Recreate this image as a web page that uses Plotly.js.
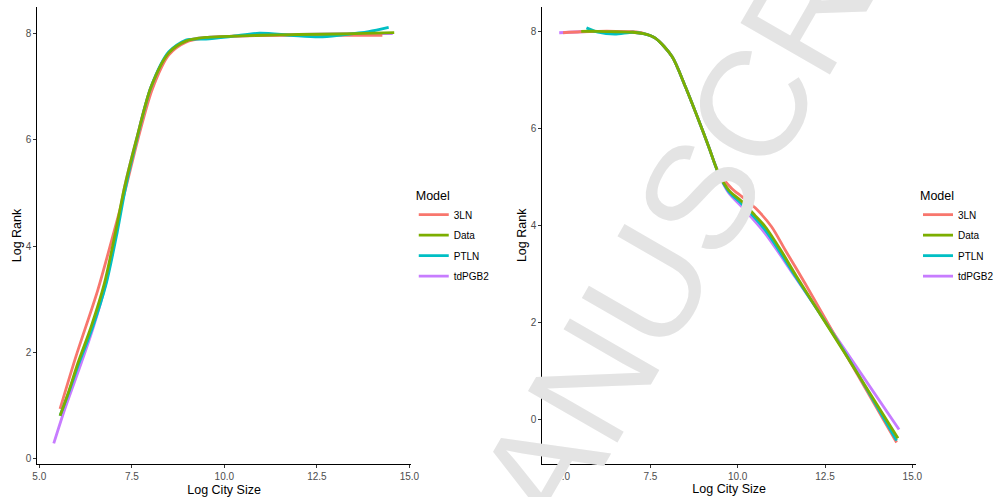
<!DOCTYPE html>
<html>
<head>
<meta charset="utf-8">
<script src="https://cdn.plot.ly/plotly-3.0.1.min.js"></script>
<style>html,body{margin:0;padding:0;background:#fff;}#chart{width:999px;height:497px;}</style>
</head>
<body>
<div id="chart"></div>
<script>
// ---- Data ----
const models = ["3LN", "Data", "PTLN", "tdPGB2"];
const colors = ["#F8766D", "#7CAE00", "#00BFC4", "#C77CFF"];
const xTickVals = [5, 7.5, 10, 12.5, 15];
const xTickText = ["5.0", "7.5", "10.0", "12.5", "15.0"];
const yTickVals = [0, 2, 4, 6, 8];
const yTickText = ["0", "2", "4", "6", "8"];

// Left panel
const left3LN_x = [5.56, 5.99, 6.58, 7.03, 7.32, 7.66, 8.05, 8.5, 8.96, 9.5, 10.5, 11.5, 12.5, 13.5, 14.27];
const left3LN_y = [0.93, 1.92, 3.17, 4.30, 5.05, 6.0, 6.95, 7.6, 7.84, 7.92, 7.96, 7.97, 7.97, 7.97, 7.97];
const leftData_x = [5.56, 5.8, 6.04, 6.40, 6.76, 7.07, 7.3, 7.62, 8.02, 8.5, 8.96, 9.5, 10.5, 11.5, 12.5, 13.5, 14.59];
const leftData_y = [0.80, 1.27, 1.79, 2.48, 3.30, 4.30, 5.1, 6.0, 7.0, 7.64, 7.86, 7.93, 7.96, 7.98, 7.99, 8.0, 8.02];
const leftPTLN_x = [5.56, 5.8, 6.06, 6.43, 6.80, 7.11, 7.33, 7.63, 8.02, 8.5, 8.96, 9.5, 10.2, 10.95, 11.8, 12.57, 13.2, 13.9, 14.44];
const leftPTLN_y = [0.80, 1.25, 1.77, 2.45, 3.27, 4.28, 5.1, 6.0, 7.0, 7.66, 7.88, 7.90, 7.95, 8.01, 7.97, 7.94, 7.98, 8.04, 8.12];
const leftTd_x = [5.39, 5.68, 6.13, 6.45, 6.78, 7.08, 7.3, 7.62, 8.02, 8.5, 8.96, 9.5, 10.5, 11.5, 12.5, 13.5, 14.55];
const leftTd_y = [0.28, 0.91, 1.79, 2.45, 3.25, 4.25, 5.1, 6.0, 7.0, 7.64, 7.86, 7.93, 7.96, 7.98, 7.99, 8.0, 8.0];

// Right panel
const right3LN_x = [5.0, 5.5, 6.0, 6.5, 7.0, 7.3, 7.64, 8.12, 8.50, 8.88, 9.17, 9.45, 9.83, 10.12, 10.5, 10.97, 11.36, 11.93, 13.02, 14.55];
const right3LN_y = [7.97, 7.99, 8.0, 8.0, 7.99, 7.96, 7.86, 7.48, 6.86, 6.17, 5.62, 5.1, 4.76, 4.59, 4.36, 3.97, 3.49, 2.80, 1.43, -0.48];
const rightData_x = [5.52, 6.0, 6.5, 7.0, 7.3, 7.64, 8.12, 8.50, 8.88, 9.17, 9.45, 9.75, 10.12, 10.5, 10.79, 11.25, 11.69, 13.05, 14.59];
const rightData_y = [8.0, 8.0, 7.99, 7.98, 7.95, 7.86, 7.48, 6.86, 6.17, 5.62, 5.07, 4.72, 4.49, 4.20, 3.97, 3.47, 2.94, 1.38, -0.39];
const rightPTLN_x = [5.67, 6.0, 6.48, 7.0, 7.3, 7.64, 8.12, 8.50, 8.88, 9.17, 9.45, 9.75, 10.12, 10.79, 11.66, 13.05, 14.55];
const rightPTLN_y = [8.07, 7.98, 7.94, 7.98, 7.95, 7.86, 7.48, 6.86, 6.17, 5.62, 5.07, 4.69, 4.44, 3.90, 2.94, 1.40, -0.44];
const rightTd_x = [4.89, 5.5, 6.0, 6.5, 7.0, 7.3, 7.64, 8.12, 8.50, 8.88, 9.17, 9.45, 9.75, 10.12, 10.79, 11.64, 13.1, 14.62];
const rightTd_y = [7.97, 7.99, 8.0, 7.99, 7.98, 7.95, 7.86, 7.48, 6.86, 6.17, 5.62, 5.07, 4.66, 4.38, 3.83, 2.94, 1.40, -0.21];

const watermarkText = "MANUSCRIPT";

// ---- Build traces ----
const FONT = "Liberation Sans, Arial, Helvetica, sans-serif";
const leftSeries = [[left3LN_x, left3LN_y], [leftData_x, leftData_y], [leftPTLN_x, leftPTLN_y], [leftTd_x, leftTd_y]];
const rightSeries = [[right3LN_x, right3LN_y], [rightData_x, rightData_y], [rightPTLN_x, rightPTLN_y], [rightTd_x, rightTd_y]];
const drawOrder = [3, 0, 2, 1]; // tdPGB2, 3LN, PTLN, Data (Data on top)

const traces = [];
function addPanel(series, xa, ya, legendId, prefix) {
  drawOrder.forEach(i => {
    traces.push({
      type: "scatter", mode: "lines",
      x: series[i][0], y: series[i][1],
      xaxis: xa, yaxis: ya,
      name: models[i],
      legend: legendId,
      legendgroup: prefix + models[i],
      legendrank: i + 1,
      line: {color: colors[i], width: 2.8, shape: "spline", smoothing: 0.8},
      hoverinfo: "skip"
    });
  });
}
addPanel(leftSeries, "x", "y", "legend", "L");
addPanel(rightSeries, "x2", "y2", "legend2", "R");

function xAxis(domain, range, anchor) {
  return {
    domain: domain, range: range, anchor: anchor,
    tickmode: "array", tickvals: xTickVals, ticktext: xTickText,
    showline: true, linecolor: "#000", linewidth: 1,
    ticks: "outside", ticklen: 3, tickwidth: 1, tickcolor: "#333",
    tickfont: {family: FONT, size: 10, color: "#4D4D4D"},
    showgrid: false, zeroline: false, automargin: false,
    title: {text: "Log City Size", font: {family: FONT, size: 12.5, color: "#000"}, standoff: 3}
  };
}
function yAxis(domain, range, anchor) {
  return {
    domain: domain, range: range, anchor: anchor,
    tickmode: "array", tickvals: yTickVals, ticktext: yTickText,
    showline: true, linecolor: "#000", linewidth: 1,
    ticks: "outside", ticklen: 3, tickwidth: 1, tickcolor: "#333",
    tickfont: {family: FONT, size: 10, color: "#4D4D4D"},
    showgrid: false, zeroline: false, automargin: false,
    title: {text: "Log Rank", font: {family: FONT, size: 12.5, color: "#000"}, standoff: 1}
  };
}

function legendCfg(x) {
  return {
    x: x, y: 0.630, xanchor: "left", yanchor: "top",
    bgcolor: "rgba(0,0,0,0)", borderwidth: 0,
    font: {family: FONT, size: 10, color: "#000"},
    title: {text: "Model", font: {family: FONT, size: 12.5, color: "#000"}},
    tracegroupgap: 1.5, itemwidth: 30
  };
}

const layout = {
  width: 999, height: 497,
  margin: {l: 0, r: 0, t: 0, b: 0},
  paper_bgcolor: "#fff", plot_bgcolor: "#fff",
  font: {family: FONT},
  showlegend: true,
  xaxis: xAxis([0.03744, 0.41211], [4.946, 15.04], "y"),
  yaxis: yAxis([0.06579, 0.98652], [-0.113, 8.509], "x"),
  xaxis2: xAxis([0.54384, 0.91892], [4.403, 15.11], "y2"),
  yaxis2: yAxis([0.0664, 0.98652], [-0.922, 8.507], "x2"),
  legend: legendCfg(0.415),
  legend2: legendCfg(0.921),
  annotations: [{
    xref: "paper", yref: "paper", x: 0.7037, y: 0.6116,
    xanchor: "center", yanchor: "middle",
    text: watermarkText, textangle: -60, showarrow: false,
    font: {family: FONT, size: 150, color: "#E4E4E4"}
  }]
};

Plotly.newPlot("chart", traces, layout, {staticPlot: true, displayModeBar: false});
</script>
</body>
</html>
